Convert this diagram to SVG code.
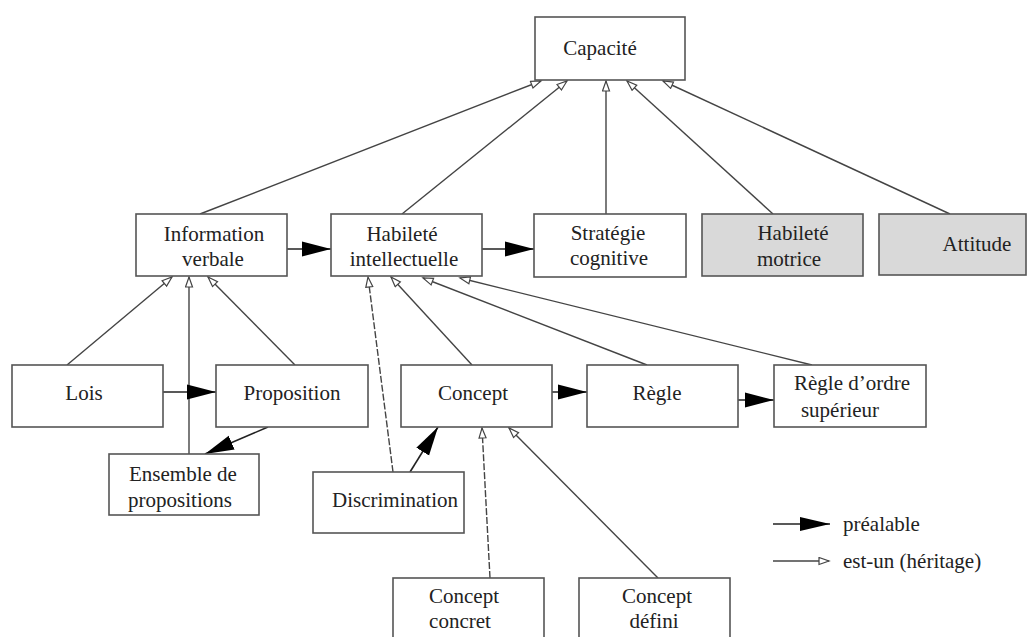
<svg xmlns="http://www.w3.org/2000/svg" width="1028" height="637" viewBox="0 0 1028 637">
<style>
.box{fill:#ffffff;stroke:#555;stroke-width:1.6}
.grey{fill:#d9d9d9}
.t{font-family:"Liberation Serif","Times New Roman",serif;font-size:21px;fill:#222;text-anchor:middle}
.isa{fill:none;stroke:#444;stroke-width:1.4;marker-end:url(#hollow)}
.dash{stroke-dasharray:7,2}
.pre{fill:none;stroke:#222;stroke-width:1.6;marker-end:url(#filled)}
</style>
<defs>
<marker id="hollow" markerUnits="userSpaceOnUse" markerWidth="13" markerHeight="10" refX="11" refY="4.5" orient="auto">
<path d="M1,1 L11,4.5 L1,8 z" fill="#fff" stroke="#444" stroke-width="1.2"/>
</marker>
<marker id="filled" markerUnits="userSpaceOnUse" markerWidth="30" markerHeight="18" refX="29" refY="8.5" orient="auto">
<path d="M0,1 L29,8.5 L0,16 z" fill="#000"/>
</marker>
<marker id="filledS" markerUnits="userSpaceOnUse" markerWidth="31" markerHeight="16" refX="30" refY="8" orient="auto">
<path d="M0,1 L30,8 L0,15 z" fill="#000"/>
</marker>
</defs>

<g id="connectors">
<!-- inheritance to Capacité -->
<line class="isa" x1="200" y1="214" x2="541" y2="81"/>
<line class="isa" x1="402" y1="214" x2="567" y2="81"/>
<line class="isa" x1="606" y1="214" x2="606" y2="81"/>
<line class="isa" x1="773" y1="214" x2="627" y2="81"/>
<line class="isa" x1="950" y1="214" x2="663" y2="81"/>
<!-- inheritance to Information verbale -->
<line class="isa" x1="67" y1="365" x2="172" y2="277"/>
<line class="isa" x1="189" y1="454" x2="189" y2="277"/>
<line class="isa" x1="295" y1="365" x2="208" y2="277"/>
<!-- inheritance to Habileté intellectuelle -->
<line class="isa dash" x1="393" y1="472" x2="368" y2="277"/>
<line class="isa" x1="472" y1="365" x2="391" y2="277"/>
<line class="isa" x1="647" y1="365" x2="423" y2="278"/>
<line class="isa" x1="812" y1="365" x2="460" y2="278"/>
<!-- inheritance to Concept -->
<line class="isa dash" x1="490" y1="578" x2="482" y2="428"/>
<line class="isa" x1="658" y1="578" x2="509" y2="428"/>
<!-- prerequisites -->
<line class="pre" x1="287" y1="249" x2="331" y2="249"/>
<line class="pre" x1="482" y1="249" x2="534" y2="249"/>
<line class="pre" x1="163" y1="392" x2="216" y2="392"/>
<line class="pre" x1="268" y1="427" x2="205" y2="454"/>
<line class="pre" x1="410" y1="472" x2="438" y2="427"/>
<line class="pre" x1="552" y1="392" x2="587" y2="392"/>
<line class="pre" x1="738" y1="400" x2="774" y2="400"/>
</g>

<g id="capacite"><rect class="box" x="535" y="17" width="150" height="63"/><text class="t" x="600" y="55">Capacité</text></g>
<g id="information-verbale"><rect class="box" x="136" y="214" width="151" height="62"/><text class="t" x="214" y="241">Information</text><text class="t" x="213" y="266">verbale</text></g>
<g id="habilete-intellectuelle"><rect class="box" x="331" y="214" width="151" height="62"/><text class="t" x="402" y="241">Habileté</text><text class="t" x="404" y="266">intellectuelle</text></g>
<g id="strategie-cognitive"><rect class="box" x="534" y="214" width="152" height="63"/><text class="t" x="608" y="240">Stratégie</text><text class="t" x="609" y="265">cognitive</text></g>
<g id="habilete-motrice"><rect class="box grey" x="702" y="214" width="161" height="62"/><text class="t" x="793" y="240">Habileté</text><text class="t" x="789" y="266">motrice</text></g>
<g id="attitude"><rect class="box grey" x="879" y="214" width="147" height="61"/><text class="t" x="977" y="251">Attitude</text></g>
<g id="lois"><rect class="box" x="12" y="365" width="151" height="62"/><text class="t" x="84" y="400">Lois</text></g>
<g id="proposition"><rect class="box" x="216" y="365" width="152" height="62"/><text class="t" x="292" y="400">Proposition</text></g>
<g id="ensemble-de-propositions"><rect class="box" x="109" y="454" width="150" height="61"/><text class="t" x="183" y="481">Ensemble de</text><text class="t" x="180" y="507">propositions</text></g>
<g id="concept"><rect class="box" x="401" y="365" width="151" height="62"/><text class="t" x="473" y="400">Concept</text></g>
<g id="discrimination"><rect class="box" x="313" y="472" width="151" height="61"/><text class="t" x="395" y="507">Discrimination</text></g>
<g id="regle"><rect class="box" x="587" y="365" width="151" height="62"/><text class="t" x="657" y="400">Règle</text></g>
<g id="regle-ordre-superieur"><rect class="box" x="774" y="365" width="152" height="62"/><text class="t" x="852" y="390">Règle d’ordre</text><text class="t" x="840" y="417">supérieur</text></g>
<g id="concept-concret"><rect class="box" x="393" y="578" width="151" height="70"/><text class="t" x="464" y="603">Concept</text><text class="t" x="460" y="628">concret</text></g>
<g id="concept-defini"><rect class="box" x="579" y="578" width="151" height="70"/><text class="t" x="657" y="603">Concept</text><text class="t" x="654" y="628">défini</text></g>

<g id="legend">
<line x1="773" y1="524" x2="830" y2="524" stroke="#222" stroke-width="1.6" marker-end="url(#filledS)"/>
<text class="t" x="843" y="531" style="text-anchor:start">préalable</text>
<line x1="773" y1="561" x2="829" y2="561" stroke="#444" stroke-width="1.4" marker-end="url(#hollow)"/>
<text class="t" x="843" y="568" style="text-anchor:start">est-un (héritage)</text>
</g>
</svg>
